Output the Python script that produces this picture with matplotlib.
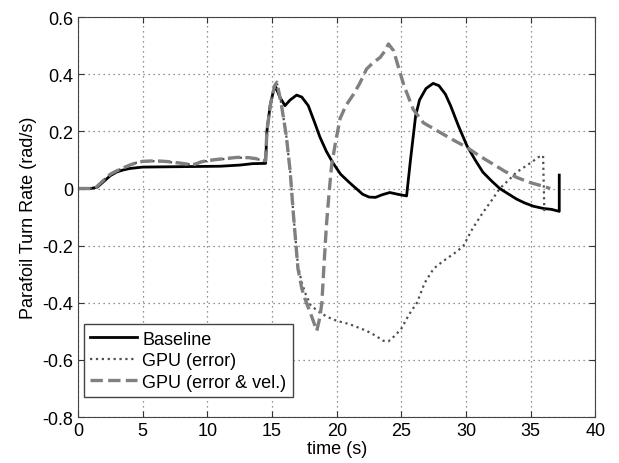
import matplotlib.pyplot as plt
import numpy as np

plt.rcParams['font.family'] = ['Liberation Sans', 'DejaVu Sans']

# Baseline (solid)
t_base = [0, 1.0, 1.5, 2.0, 2.5, 3.0, 3.5, 4.0, 5.0, 7.0, 9.0, 11.0, 12.5, 13.5, 14.5, 14.6,
          14.85, 15.1, 15.3, 15.6, 16.0, 16.4, 16.9, 17.3, 17.8, 18.3, 18.7, 19.2, 19.7, 20.3,
          21.0, 21.5, 22.0, 22.5, 23.0, 23.5, 24.1, 24.7, 25.4, 25.7, 26.1, 26.4, 26.9, 27.45,
          27.9, 28.4, 28.8, 29.4, 30.06, 30.7, 31.3, 32.0, 32.6, 33.3, 33.9, 34.5, 35.2, 36.0,
          36.6, 37.2, 37.2]
y_base = [0, 0, 0.005, 0.025, 0.045, 0.058, 0.065, 0.07, 0.075, 0.076, 0.077, 0.078, 0.082, 0.087,
          0.088, 0.2, 0.29, 0.34, 0.354, 0.32, 0.29, 0.31, 0.327, 0.32, 0.29, 0.23, 0.18, 0.13,
          0.09, 0.05, 0.02, 0.0, -0.02, -0.03, -0.031, -0.022, -0.014, -0.02, -0.026, 0.1, 0.255,
          0.31, 0.35, 0.368, 0.36, 0.33, 0.29, 0.22, 0.15, 0.1, 0.057, 0.025, 0.0, -0.02, -0.037,
          -0.05, -0.062, -0.07, -0.073, -0.08, 0.047]

# GPU (error) (dotted)
t_err = [0, 1.3, 2.0, 2.5, 3.0, 3.5, 4.0, 4.5, 5.0, 6.0, 7.0, 7.9, 8.5, 9.05, 9.5, 10.0, 11.0,
         12.3, 13.2, 13.7, 14.5, 14.6, 14.9, 15.2, 15.37, 15.7, 16.1, 16.4, 16.65, 17.0, 17.3,
         17.6, 18.0, 18.7, 19.3, 20.0, 21.0, 22.3, 23.0, 23.6, 24.0, 24.5, 25.0, 25.6, 26.2,
         26.8, 27.5, 28.2, 28.8, 29.3, 29.8, 30.5, 31.3, 32.0, 32.6, 33.3, 33.9, 35.0, 35.6,
         35.95, 36.05]
y_err = [0, 0, 0.03, 0.05, 0.062, 0.072, 0.082, 0.09, 0.094, 0.096, 0.093, 0.088, 0.085, 0.085,
         0.092, 0.097, 0.102, 0.108, 0.107, 0.104, 0.097, 0.2, 0.3, 0.36, 0.37, 0.3, 0.185, 0.06,
         -0.09, -0.27, -0.33, -0.37, -0.41, -0.434, -0.45, -0.463, -0.475, -0.498, -0.515, -0.533,
         -0.535, -0.515, -0.49, -0.44, -0.40, -0.33, -0.28, -0.255, -0.236, -0.22, -0.20, -0.14,
         -0.084, -0.04, 0.0, 0.03, 0.057, 0.09, 0.11, 0.115, -0.084]

# GPU (error & vel.) (dashed)
t_vel = [0, 1.3, 2.0, 2.5, 3.0, 3.5, 4.0, 4.5, 5.0, 6.0, 7.0, 7.9, 8.5, 9.05, 9.5, 10.0, 11.0,
         12.3, 13.2, 13.7, 14.5, 14.6, 14.9, 15.2, 15.37, 15.7, 16.1, 16.4, 16.65, 17.0, 17.3,
         17.55, 18.0, 18.46, 18.7, 18.85, 19.0, 19.2, 19.4, 19.6, 19.9, 20.26, 20.7, 21.3, 21.8,
         22.3, 22.8, 23.36, 23.7, 24.0, 24.4, 24.8, 25.2, 25.9, 26.7, 28.0, 29.0, 30.06, 31.0,
         32.1, 33.0, 33.9, 35.0, 35.8, 36.5]
y_vel = [0, 0, 0.03, 0.05, 0.062, 0.072, 0.082, 0.09, 0.095, 0.097, 0.094, 0.089, 0.085, 0.085,
         0.093, 0.098, 0.103, 0.109, 0.108, 0.105, 0.097, 0.2, 0.3, 0.36, 0.372, 0.3, 0.185, 0.06,
         -0.09, -0.28, -0.35, -0.387, -0.44, -0.498, -0.45, -0.40, -0.28, -0.13, -0.02, 0.08,
         0.16, 0.245, 0.29, 0.33, 0.37, 0.418, 0.44, 0.459, 0.48, 0.506, 0.482, 0.42, 0.36,
         0.278, 0.23, 0.196, 0.17, 0.144, 0.115, 0.085, 0.06, 0.039, 0.02, 0.01, 0.0]

fig = plt.figure(figsize=(6.19, 4.64), dpi=100)
ax = fig.add_axes([0.126, 0.099, 0.836, 0.862])

ax.plot(t_base, y_base, '-', color='black', linewidth=2, label='Baseline')
ax.plot(t_err, y_err, ':', color='#505050', linewidth=1.6, label='GPU (error)')
ax.plot(t_vel, y_vel, '--', color='#808080', linewidth=2.4, label='GPU (error & vel.)')

ax.set_xlim(0, 40)
ax.set_ylim(-0.8, 0.6)
ax.set_xticks(np.arange(0, 41, 5))
ax.set_yticks(np.arange(-0.8, 0.61, 0.2))
ax.set_yticklabels(['-0.8', '-0.6', '-0.4', '-0.2', '0', '0.2', '0.4', '0.6'])
ax.tick_params(direction='in', labelsize=13, length=4, top=True, right=True, colors='#333333',
               labelcolor='black')
ax.grid(True, linestyle=(0, (1, 3)), color='#707070', linewidth=0.9)
for s in ax.spines.values():
    s.set_color('#444444')
ax.set_xlabel('time (s)', fontsize=13, labelpad=1)
ax.set_ylabel('Parafoil Turn Rate (rad/s)', fontsize=13, labelpad=4)

leg = ax.legend(loc='lower left', bbox_to_anchor=(0.011, 0.05), fontsize=13, fancybox=False,
                framealpha=1, edgecolor='#444444', handlelength=2.6, borderpad=0.35,
                labelspacing=0.25, handletextpad=0.3, borderaxespad=0)
leg.get_frame().set_linewidth(1.0)

plt.savefig('out.png', dpi=100)
